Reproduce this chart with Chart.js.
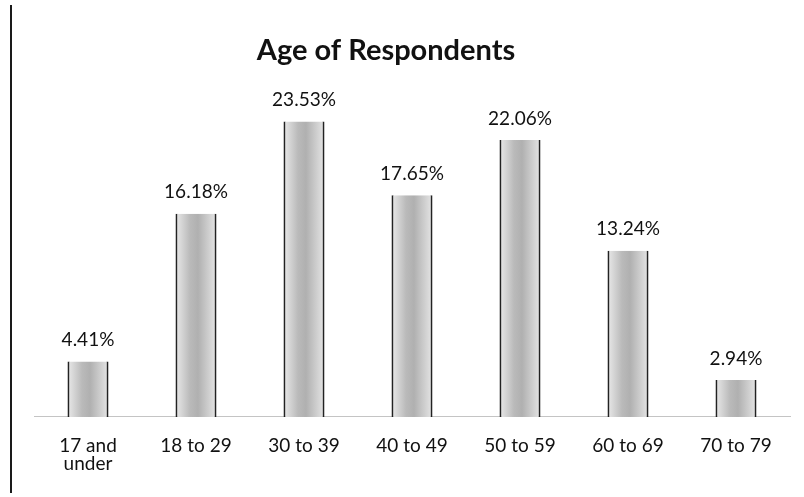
<!DOCTYPE html>
<html>
<head>
<meta charset="utf-8">
<script src="https://cdn.jsdelivr.net/npm/chart.js@4"></script>
<style>
  body { margin: 0; background: #fff; }
  .wrap { position: relative; width: 804px; height: 497px; }
  .rule { position: absolute; left: 10px; top: 5px; width: 2px; height: 488px; background: #1a1a1a; }
</style>
</head>
<body>
<div class="wrap">
  <div class="rule"></div>
  <canvas id="ageChart" width="804" height="497"></canvas>
</div>
<script>
  const titleText = 'Age of Respondents';
  const ageGroups = [['17 and', 'under'], '18 to 29', '30 to 39', '40 to 49', '50 to 59', '60 to 69', '70 to 79'];
  const percents = [4.41, 16.18, 23.53, 17.65, 22.06, 13.24, 2.94];
  const yMax = 25;

  // value labels above each bar + chart title
  const barLabels = {
    id: 'barLabels',
    afterDatasetsDraw(chart) {
      const c = chart.ctx;
      const meta = chart.getDatasetMeta(0);
      c.save();
      c.font = '19px Lato';
      c.fillStyle = '#111111';
      c.textAlign = 'center';
      c.textBaseline = 'bottom';
      meta.data.forEach((bar, i) => {
        c.fillText(percents[i].toFixed(2) + '%', bar.x, bar.y - 12);
      });
      c.font = 'bold 29px Lato';
      c.textBaseline = 'alphabetic';
      c.fillText(titleText, chart.width / 2 - 16, 60);
      c.restore();
    }
  };

  function barFill(context) {
    const chart = context.chart;
    if (!chart.chartArea) return '#bcbcbc';
    const x = chart.scales.x.getPixelForValue(context.dataIndex);
    const g = chart.ctx.createLinearGradient(x - 20, 0, x + 20, 0);
    g.addColorStop(0, '#e8e8e8');
    g.addColorStop(0.35, '#bababa');
    g.addColorStop(0.55, '#b0b0b0');
    g.addColorStop(1, '#e4e4e4');
    return g;
  }

  new Chart(document.getElementById('ageChart'), {
    type: 'bar',
    data: {
      labels: ageGroups,
      datasets: [{
        data: percents,
        backgroundColor: barFill,
        borderColor: '#222222',
        borderWidth: { left: 2, right: 2, top: 0, bottom: 0 },
        borderSkipped: false,
        barPercentage: 0.38,
        categoryPercentage: 1
      }]
    },
    options: {
      responsive: false,
      animation: false,
      layout: {
        padding: { left: 34, right: 14, top: 103, bottom: 12 }
      },
      plugins: {
        legend: { display: false },
        title: { display: false },
        tooltip: { enabled: false }
      },
      scales: {
        x: {
          grid: { display: false },
          border: { display: true, color: '#c4c4c4', dash: [2, 2], width: 1 },
          ticks: {
            color: '#111111',
            font: { family: 'Lato', size: 19, lineHeight: 0.95 },
            padding: 12,
            maxRotation: 0
          }
        },
        y: {
          display: false,
          min: 0,
          max: yMax
        }
      }
    },
    plugins: [barLabels]
  });
</script>
</body>
</html>
